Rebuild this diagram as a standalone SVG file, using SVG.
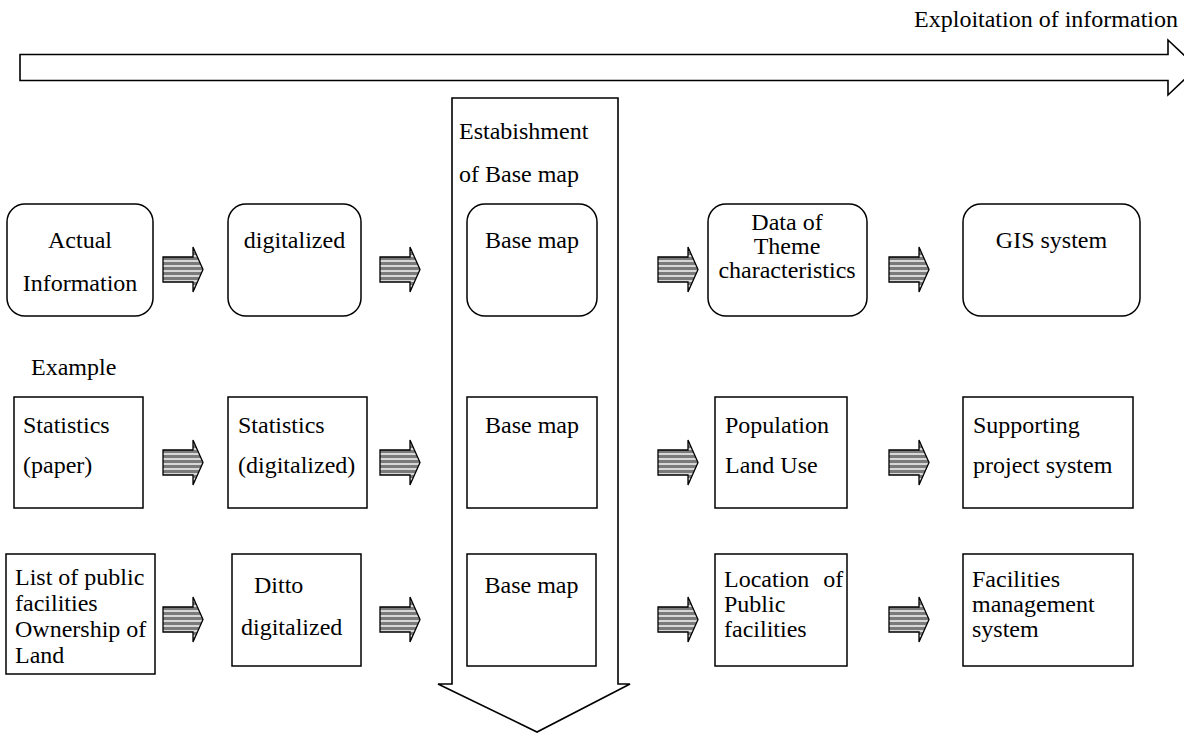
<svg xmlns="http://www.w3.org/2000/svg" xmlns:xlink="http://www.w3.org/1999/xlink" width="1184" height="733" viewBox="0 0 1184 733">
<style>
text{font-size:24px;fill:#000}
.c{text-anchor:middle}
.box{fill:#fff;stroke:#000;stroke-width:1.5}
.big{fill:#fff;stroke:#000;stroke-width:1.6}
.sa{fill:url(#stripes);stroke:#000;stroke-width:1.3}
</style>
<defs>
<pattern id="stripes" patternUnits="userSpaceOnUse" width="10" height="5">
<rect width="10" height="5" fill="#7a7a7a"/>
<rect y="3.3" width="10" height="1.4" fill="#fff"/>
</pattern>
<path id="sarrow" d="M0,10 H30 V0 L40,22.5 L30,45 V35 H0 Z"/>
</defs>
<rect width="1184" height="733" fill="#fff"/>
<g font-family="Liberation Serif" font-size="24">
<g id="flow-exploitation">
<path class="big" d="M20,54.5 H1168 V40 L1197,67.5 L1168,95 V80.5 H20 Z"/>
<text x="1178" y="27" text-anchor="end" font-family="Liberation Serif">Exploitation of information</text>
</g>

<g id="flow-basemap">
<path class="big" d="M452,98 H618 V684 H630 L537,732 L438,684 H452 Z"/>
<text x="459" y="139" font-family="Liberation Serif">Estabishment</text>
<text x="459" y="182" font-family="Liberation Serif">of Base map</text>
</g>

<g id="n-actual"><rect class="box" x="7" y="204" width="146" height="112" rx="18"/><text class="c" x="80" y="248" font-family="Liberation Serif">Actual</text><text class="c" x="80" y="291" font-family="Liberation Serif">Information</text></g>
<g id="n-digitalized"><rect class="box" x="228" y="204" width="133" height="112" rx="18"/><text class="c" x="294.5" y="248" font-family="Liberation Serif">digitalized</text></g>
<g id="n-basemap1"><rect class="box" x="467" y="204" width="130" height="112" rx="18"/><text class="c" x="532" y="248" font-family="Liberation Serif">Base map</text></g>
<g id="n-theme"><rect class="box" x="708" y="204" width="159" height="112" rx="18"/><text class="c" x="787" y="230" font-family="Liberation Serif">Data of</text><text class="c" x="787" y="254" font-family="Liberation Serif">Theme</text><text class="c" x="787" y="278" font-family="Liberation Serif">characteristics</text></g>
<g id="n-gis"><rect class="box" x="963" y="204" width="177" height="112" rx="18"/><text class="c" x="1051.5" y="248" font-family="Liberation Serif">GIS system</text></g>

<g id="lbl-example"><text x="31" y="375" font-family="Liberation Serif">Example</text></g>

<g id="n-stat-paper"><rect class="box" x="14" y="397" width="129" height="111"/><text x="23" y="433" font-family="Liberation Serif">Statistics</text><text x="23" y="473" font-family="Liberation Serif">(paper)</text></g>
<g id="n-stat-dig"><rect class="box" x="228" y="397" width="139" height="111"/><text x="238" y="433" font-family="Liberation Serif">Statistics</text><text x="238" y="473" font-family="Liberation Serif">(digitalized)</text></g>
<g id="n-basemap2"><rect class="box" x="467" y="397" width="130" height="111"/><text class="c" x="532" y="433" font-family="Liberation Serif">Base map</text></g>
<g id="n-population"><rect class="box" x="715" y="397" width="132" height="111"/><text x="725" y="433" font-family="Liberation Serif">Population</text><text x="725" y="473" font-family="Liberation Serif">Land Use</text></g>
<g id="n-supporting"><rect class="box" x="963" y="397" width="170" height="111"/><text x="973" y="433" font-family="Liberation Serif">Supporting</text><text x="973" y="473" font-family="Liberation Serif">project system</text></g>

<g id="n-list"><rect class="box" x="6" y="554" width="149" height="120"/><text x="15" y="585" font-family="Liberation Serif">List of public</text><text x="15" y="611" font-family="Liberation Serif">facilities</text><text x="15" y="637" font-family="Liberation Serif">Ownership of</text><text x="15" y="663" font-family="Liberation Serif">Land</text></g>
<g id="n-ditto"><rect class="box" x="232" y="554" width="129" height="112"/><text x="254" y="593" font-family="Liberation Serif">Ditto</text><text x="241" y="635" font-family="Liberation Serif">digitalized</text></g>
<g id="n-basemap3"><rect class="box" x="467" y="554" width="129" height="112"/><text class="c" x="531.5" y="593" font-family="Liberation Serif">Base map</text></g>
<g id="n-location"><rect class="box" x="715" y="554" width="132" height="112"/><text x="724" y="587" word-spacing="8" font-family="Liberation Serif">Location of</text><text x="724" y="612" font-family="Liberation Serif">Public</text><text x="724" y="637" font-family="Liberation Serif">facilities</text></g>
<g id="n-facilities"><rect class="box" x="963" y="554" width="170" height="112"/><text x="972" y="587" font-family="Liberation Serif">Facilities</text><text x="972" y="612" font-family="Liberation Serif">management</text><text x="972" y="637" font-family="Liberation Serif">system</text></g>
</g>
<g id="connectors">
<use class="sa" href="#sarrow" xlink:href="#sarrow" x="163" y="247"/>
<use class="sa" href="#sarrow" xlink:href="#sarrow" x="380" y="247"/>
<use class="sa" href="#sarrow" xlink:href="#sarrow" x="658" y="247"/>
<use class="sa" href="#sarrow" xlink:href="#sarrow" x="889" y="247"/>
<use class="sa" href="#sarrow" xlink:href="#sarrow" x="163" y="440"/>
<use class="sa" href="#sarrow" xlink:href="#sarrow" x="380" y="440"/>
<use class="sa" href="#sarrow" xlink:href="#sarrow" x="658" y="440"/>
<use class="sa" href="#sarrow" xlink:href="#sarrow" x="889" y="440"/>
<use class="sa" href="#sarrow" xlink:href="#sarrow" x="163" y="597"/>
<use class="sa" href="#sarrow" xlink:href="#sarrow" x="380" y="597"/>
<use class="sa" href="#sarrow" xlink:href="#sarrow" x="658" y="597"/>
<use class="sa" href="#sarrow" xlink:href="#sarrow" x="889" y="597"/>
</g>
</svg>
